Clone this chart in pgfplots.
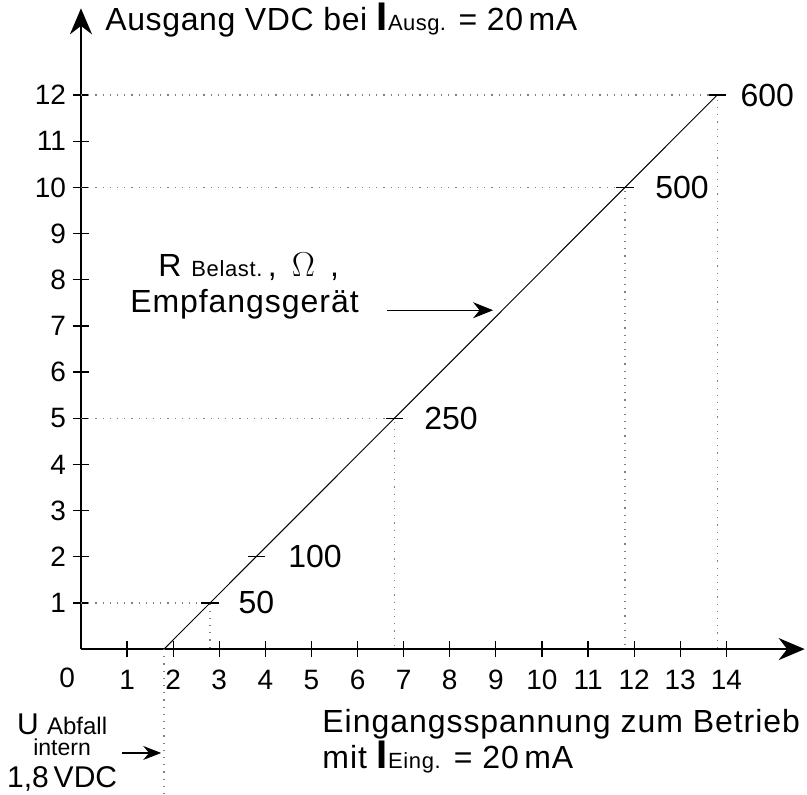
\documentclass[border=0pt]{standalone}
\usepackage{pgfplots}
\pgfplotsset{compat=1.18}
\usepackage{fontspec}
\setmainfont{Liberation Sans}
\newfontfamily\wide{Liberation Sans}[LetterSpace=3]
\newfontfamily\tit{Liberation Sans}[LetterSpace=2]
\usetikzlibrary{arrows.meta}
\newcommand{\fs}[1]{\fontsize{#1}{#1}\selectfont}
\begin{document}
\begin{tikzpicture}
\begin{axis}[
  x=23.05pt, y=23.085pt,
  xmin=0, xmax=15.7, ymin=0, ymax=13.88,
  axis x line=bottom, axis y line=left,
  x axis line style={line width=1.3pt, -{Stealth[length=13pt,width=11pt]}},
  y axis line style={line width=1.3pt, -{Stealth[length=13pt,width=11pt]}},
  xtick={1,...,14}, ytick={1,...,12},
  tick align=center, major tick length=8pt,
  tick style={black, line width=0.6pt},
  /pgf/number format/assume math mode=true,
  ticklabel style={font=\fs{14}},
  xticklabel style={yshift=-3pt},
  clip=false,
]
% invisible frame fixing the picture size
\path (axis cs:-1.757,-3.14) rectangle (axis cs:15.75,14.06);
% dotted guides
\addplot[gray, line width=0.6pt, dash pattern=on 0.6pt off 3pt] coordinates {(0,1) (2.8,1) (2.8,0)};
\addplot[gray, line width=0.6pt, dash pattern=on 0.6pt off 3pt] coordinates {(0,5) (6.8,5) (6.8,0)};
\addplot[gray, line width=0.6pt, dash pattern=on 0.6pt off 3pt] coordinates {(0,10) (11.8,10) (11.8,0)};
\addplot[gray, line width=0.6pt, dash pattern=on 0.6pt off 3pt] coordinates {(0,12) (13.8,12) (13.8,0)};
\addplot[gray, line width=0.6pt, dash pattern=on 0.6pt off 3pt] coordinates {(1.8,0) (1.8,-3.14)};
% characteristic line
\addplot[black, line width=0.5pt] coordinates {(1.8,0) (13.8,12)};
\addplot[only marks, mark=-, mark size=4.3pt, mark options={line width=0.6pt, black}] coordinates {(2.8,1) (3.8,2) (6.8,5) (11.8,10) (13.8,12)};
% load labels
\node[anchor=west, inner sep=0, font=\fs{16}] at (axis cs:3.41,1) {50};
\node[anchor=west, inner sep=0, font=\fs{16}] at (axis cs:4.49,2) {100};
\node[anchor=west, inner sep=0, font=\fs{16}] at (axis cs:7.44,5) {250};
\node[anchor=west, inner sep=0, font=\fs{16}] at (axis cs:12.45,10) {500};
\node[anchor=west, inner sep=0, font=\fs{16}] at (axis cs:14.30,12) {600};
% zero label
\node[anchor=north, font=\fs{14}] at (axis cs:-0.3,0) [yshift=-6pt] {0};
% title
\node[anchor=base west, inner sep=0, font=\fs{16}\tit] at (axis cs:0.52,13.41) {Ausgang VDC bei {\fs{20}\bfseries I}{\fs{11}Ausg.} = 20\,mA};
% x label
\node[anchor=base west, inner sep=0, font=\fs{16}\wide] at (axis cs:5.23,-1.80) {Eingangsspannung zum Betrieb};
\node[anchor=base west, inner sep=0, font=\fs{16}\wide] at (axis cs:5.23,-2.58) {mit {\fs{20}\bfseries I}{\fs{11}Eing.} = 20\,mA};
% U Abfall
\node[anchor=base, inner sep=0, font=\fs{15}] at (axis cs:-0.41,-1.86) {U {\fs{12}Abfall}};
\node[anchor=base, inner sep=0, font=\fs{11.5}] at (axis cs:-0.41,-2.31) {intern};
\node[anchor=base, inner sep=0, font=\fs{15}] at (axis cs:-0.41,-3.0) {1,8\,VDC};
\draw[line width=0.6pt, -{Stealth[length=9pt,width=7pt]}] (axis cs:0.89,-2.25) -- (axis cs:1.74,-2.25);
% R label
\node[anchor=base west, inner sep=0, font=\fs{16}\wide] at (axis cs:1.67,8.06) {R {\fs{11}Belast.}\,, \,{\fs{18}$\Omega$}\, ,};
\node[anchor=base west, inner sep=0, font=\fs{16}\wide] at (axis cs:1.06,7.30) {Empfangsgerät};
\draw[line width=0.6pt, -{Stealth[length=10pt,width=8pt]}] (axis cs:6.64,7.34) -- (axis cs:8.94,7.34);
\end{axis}
\end{tikzpicture}
\end{document}
